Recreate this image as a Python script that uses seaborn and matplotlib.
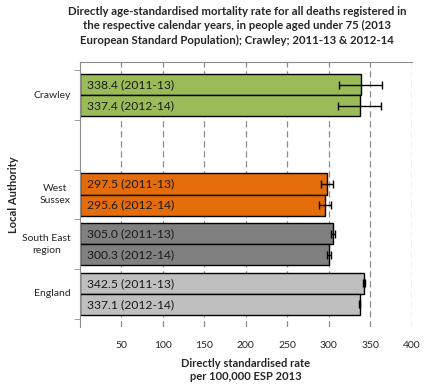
import pandas as pd
import matplotlib.pyplot as plt
import matplotlib.transforms as mtransforms
import seaborn as sns

# data
authorities = ["Crawley", "West\nSussex", "South East\nregion", "England"]
periods = ["2011-13", "2012-14"]
rate_1113 = [338.4, 297.5, 305.0, 342.5]
rate_1214 = [337.4, 295.6, 300.3, 337.1]
lower_1113 = [312.8, 290.3, 302.6, 341.6]
upper_1113 = [364.6, 304.8, 307.4, 343.4]
lower_1214 = [311.6, 288.0, 297.9, 336.3]
upper_1214 = [363.5, 302.2, 302.7, 337.9]
bar_colours = ["#9BBB59", "#E46C0A", "#808080", "#BFBFBF"]

# empty slot between Crawley and West Sussex, as in the original
order = ["Crawley", " ", "West\nSussex", "South East\nregion", "England"]

df = pd.DataFrame({
    "authority": authorities * 2,
    "period": [periods[0]] * 4 + [periods[1]] * 4,
    "rate": rate_1113 + rate_1214,
    "lower": lower_1113 + lower_1214,
    "upper": upper_1113 + upper_1214,
})

sns.set_style("white")
plt.rcParams["font.family"] = ["Lato", "DejaVu Sans"]

fig = plt.figure(figsize=(4.47, 3.88), dpi=100)
ax = fig.add_axes([0.179, 0.157, 0.742, 0.683])

sns.barplot(data=df, y="authority", x="rate", hue="period", order=order,
            hue_order=periods, orient="h", width=0.85, errorbar=None,
            edgecolor="black", linewidth=1.0, legend=False, ax=ax)

colour_of = dict(zip(authorities, bar_colours))
for container, period in zip(ax.containers, periods):
    sub = df[df["period"] == period].set_index("authority")
    for bar, name in zip(container.patches, [a for a in order if a in authorities]):
        bar.set_facecolor(colour_of[name])
        row = sub.loc[name]
        yc = bar.get_y() + bar.get_height() / 2
        ax.errorbar(row["rate"], yc,
                    xerr=[[row["rate"] - row["lower"]], [row["upper"] - row["rate"]]],
                    fmt="none", ecolor="black", elinewidth=1.0, capsize=3, capthick=1.0,
                    zorder=4)
        ax.text(9, yc, f"{row['rate']:.1f} ({period})", va="center", ha="left",
                fontsize=8.7, color="#1a1a1a", zorder=5)

ax.set_xlim(0, 400)
ax.set_xticks([50, 100, 150, 200, 250, 300, 350, 400])
ax.xaxis.grid(True, color="#8c8c8c", linestyle=(0, (5, 3)), linewidth=0.9)
ax.set_axisbelow(True)
ax.tick_params(axis="x", length=0, labelsize=7.5, pad=10)

# category labels: right-aligned block, lines centred (Excel style)
ax.set_yticks(range(len(order)))
ax.set_yticklabels([""] * len(order))
trans = mtransforms.blended_transform_factory(ax.transAxes, ax.transData)
for i, name in enumerate(order):
    ax.text(-0.028, i, name, transform=trans, ha="right", va="center",
            multialignment="center", fontsize=7.5, linespacing=1.5)
ax.set_yticks([i - 0.5 for i in range(len(order) + 1)], minor=True)
ax.tick_params(axis="y", which="major", length=0)
ax.tick_params(axis="y", which="minor", length=4, color="#8c8c8c", left=True)

for side in ["right", "bottom"]:
    ax.spines[side].set_visible(False)
ax.spines["left"].set_color("#8c8c8c")
ax.spines["top"].set_color("#8c8c8c")

ax.set_xlabel("Directly standardised rate\nper 100,000 ESP 2013", fontsize=8,
              fontweight="bold", labelpad=6)
ax.set_ylabel("Local Authority", fontsize=8, fontweight="bold")
ax.yaxis.set_label_coords(-0.185, 0.5)
fig.suptitle("Directly age-standardised mortality rate for all deaths registered in\n"
             "the respective calendar years, in people aged under 75 (2013\n"
             "European Standard Population); Crawley; 2011-13 & 2012-14",
             fontsize=8.2, fontweight="bold", x=0.53, y=0.985, linespacing=1.4)

fig.savefig("out.png", dpi=100)
